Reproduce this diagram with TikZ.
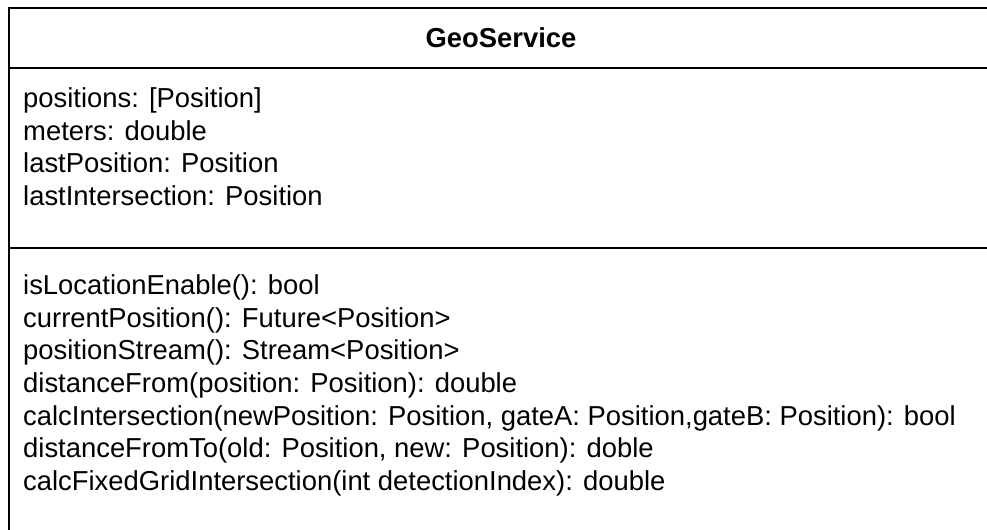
\documentclass[tikz,border=0pt]{standalone}
\usepackage{fontspec}
\setmainfont{Liberation Sans}
\begin{document}
\begin{tikzpicture}[x=1bp,y=-1bp,
  txt/.style={inner sep=0pt, font=\fontsize{27.4bp}{32.5bp}\selectfont},
  member/.style={txt, anchor=base west},
  titletxt/.style={txt, anchor=base, font=\fontsize{27.4bp}{32.5bp}\selectfont\bfseries},
  boxline/.style={line width=2bp, draw=black}]
\useasboundingbox (0,0) rectangle (987,530);
\clip (0,0) rectangle (987,530);
% class box and compartments
\coordinate (tl) at (8.5,8);
\coordinate (br) at (1000,560);
\coordinate (d1l) at (8.5,68);
\coordinate (d1r) at (1000,68);
\coordinate (d2l) at (8.5,248);
\coordinate (d2r) at (1000,248);
\draw[boxline] (tl) rectangle (br);
\draw[boxline] (d1l) -- (d1r);
\draw[boxline] (d2l) -- (d2r);
% title
\node[titletxt] (title) at (501,47.5) {GeoService};
% attributes
\node[member] (a1) at (23,108) {positions: [Position]};
\node[member] (a2) at (23,140.5) {meters: double};
\node[member] (a3) at (23,173) {lastPosition: Position};
\node[member] (a4) at (23,205.5) {lastIntersection: Position};
% methods
\node[member] (m1) at (23,295) {isLocationEnable(): bool};
\node[member] (m2) at (23,327.5) {currentPosition(): Future<Position>};
\node[member] (m3) at (23,360) {positionStream(): Stream<Position>};
\node[member] (m4) at (23,392.5) {distanceFrom(position: Position): double};
\node[member] (m5) at (23,425) {calcIntersection(newPosition: Position, gateA: Position,gateB: Position): bool};
\node[member] (m6) at (23,457.5) {distanceFromTo(old: Position, new: Position): doble};
\node[member] (m7) at (23,490) {calcFixedGridIntersection(int detectionIndex): double};
\end{tikzpicture}
\end{document}
